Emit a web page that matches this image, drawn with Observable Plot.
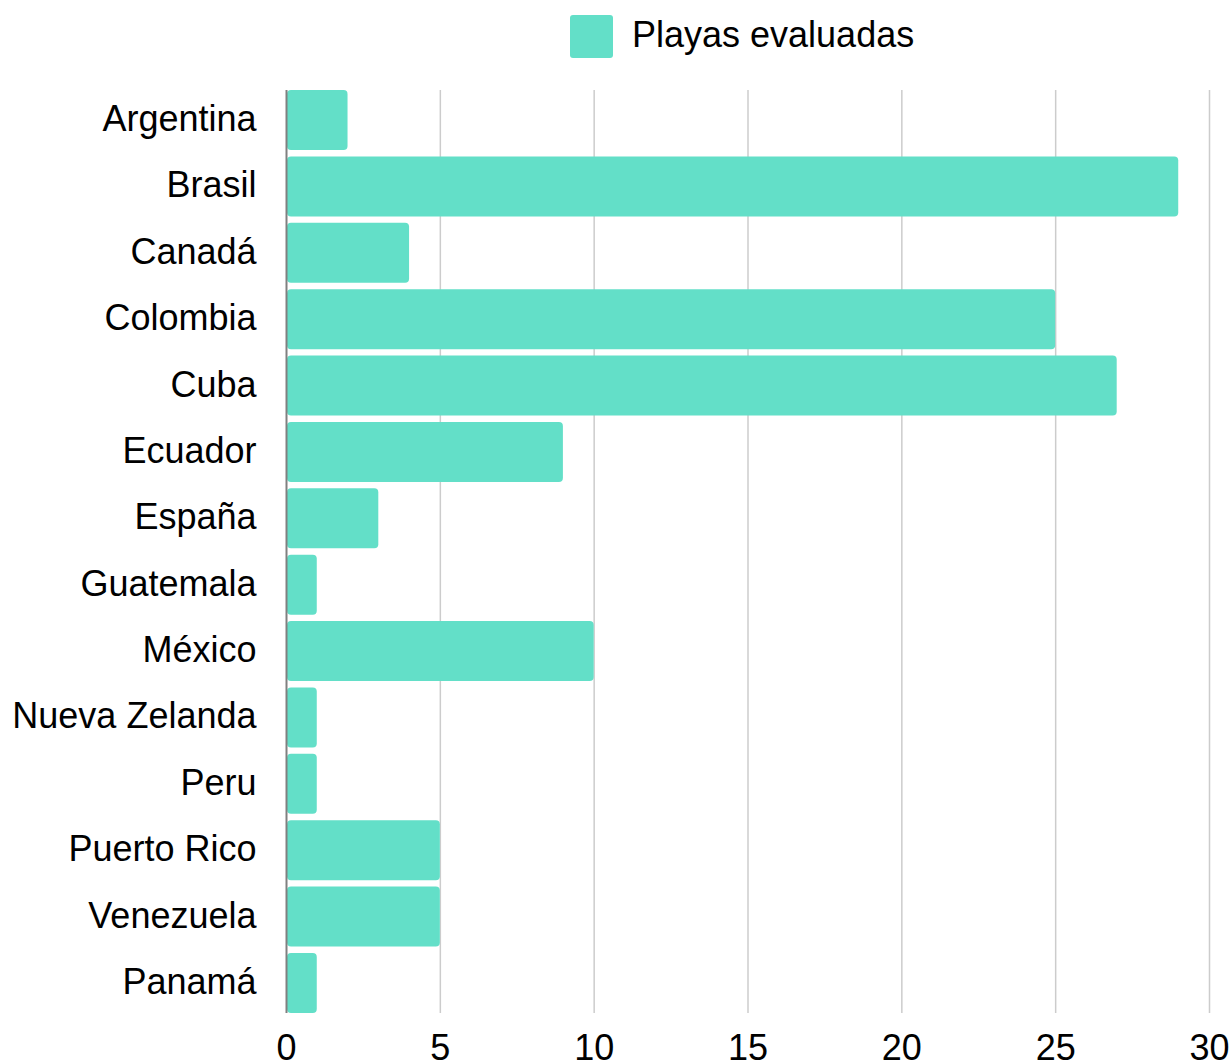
<!DOCTYPE html>
<html>
<head>
<meta charset="utf-8">
<script src="https://cdn.jsdelivr.net/npm/d3@7"></script>
<script src="https://cdn.jsdelivr.net/npm/@observablehq/plot@0.6"></script>
<style>
  html, body { margin: 0; padding: 0; background: #fff; }
  body { width: 1232px; height: 1064px; overflow: hidden; font-family: "Liberation Sans", Arial, sans-serif; }
  #legend { position: relative; height: 74px; width: 1232px; }
  #legend .sw { position: absolute; left: 570px; top: 15px; width: 43px; height: 43px; border-radius: 3px; background: #63dfc8; }
  #legend .lb { position: absolute; left: 632px; top: 17px; font-size: 36px; line-height: 36px; color: #000; white-space: nowrap; }
  #chart svg { display: block; }
</style>
</head>
<body>
<div id="legend"><div class="sw"></div><div class="lb">Playas evaluadas</div></div>
<div id="chart"></div>
<script>
const countries = ["Argentina", "Brasil", "Canadá", "Colombia", "Cuba", "Ecuador", "España", "Guatemala", "México", "Nueva Zelanda", "Peru", "Puerto Rico", "Venezuela", "Panamá"];
const playas = [2, 29, 4, 25, 27, 9, 3, 1, 10, 1, 1, 5, 5, 1];
const xTicks = [0, 5, 10, 15, 20, 25, 30];
const seriesName = "Playas evaluadas";
const barColor = "#63dfc8";

const data = countries.map((c, i) => ({country: c, value: playas[i]}));

const chart = Plot.plot({
  width: 1232,
  height: 990,
  marginTop: 16,
  marginBottom: 51,
  marginLeft: 286,
  marginRight: 23,
  style: {fontFamily: '"Liberation Sans", Arial, sans-serif', fontSize: "36px", color: "#000", background: "#fff"},
  x: {domain: [0, 30], ticks: xTicks, label: null},
  y: {domain: countries, paddingInner: 0.096, paddingOuter: 0, round: false, label: null},
  marks: [
    Plot.ruleX(xTicks.filter(d => d !== 0), {stroke: "#cccccc", strokeWidth: 1.5}),
    Plot.barX(data, {x: "value", y: "country", fill: barColor, rx: 4, insetLeft: 1}),
    Plot.ruleX([0], {stroke: "#808080", strokeWidth: 2}),
    Plot.axisX({ticks: xTicks, tickSize: 0, tickPadding: 21, label: null, fontSize: 36, tickFormat: d => String(d)}),
    Plot.axisY({tickSize: 0, tickPadding: 30, label: null, fontSize: 36, dy: -1})
  ]
});
document.getElementById("chart").appendChild(chart);
</script>
</body>
</html>
